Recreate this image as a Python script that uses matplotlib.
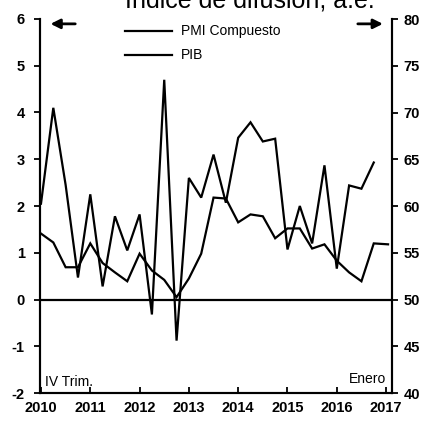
import numpy as np
import matplotlib
matplotlib.use("Agg")
import matplotlib.pyplot as plt

plt.rcParams['font.family'] = ['Liberation Sans', 'DejaVu Sans']

# ------------------------------------------------------------------
# Datos
# ------------------------------------------------------------------
# PIB: variacion trimestral, eje izquierdo, I-2010 a IV-2016
t_pib = np.arange(2010, 2017, 0.25)
pib = [2.05, 4.1, 2.45, 0.47, 2.25, 0.28, 1.78, 1.05, 1.82, -0.32, 4.7, -0.88,
       2.6, 2.18, 3.1, 2.07, 3.46, 3.79, 3.38, 3.44, 1.07, 2.0, 1.2, 2.87,
       0.66, 2.44, 2.37, 2.93]

# PMI compuesto: indice de difusion, eje derecho, hasta enero 2017
t_pmi = list(np.arange(2010, 2017, 0.25)) + [2017.04]
pmi = [57.05, 56.1, 53.45, 53.45, 56.0, 53.9, 52.9, 51.95, 54.9, 53.1, 52.1, 50.25,
       52.25, 54.9, 60.9, 60.8, 58.25, 59.1, 58.9, 56.55, 57.6, 57.6, 55.45, 55.9,
       54.15, 52.9, 51.95, 56.0, 55.9]

years = [2010, 2011, 2012, 2013, 2014, 2015, 2016, 2017]
left_ticks = [-2, -1, 0, 1, 2, 3, 4, 5, 6]
right_ticks = [40, 45, 50, 55, 60, 65, 70, 75, 80]

fig = plt.figure(figsize=(4.24, 4.23), dpi=100, facecolor='white')
ax = fig.add_axes([40/424, 1-393/423, 352/424, 374/423])
ax2 = ax.twinx()

# ------------------------------------------------------------------
# Series
# ------------------------------------------------------------------
ax.plot(t_pib, pib, color='black', lw=1.6, solid_joinstyle='miter')
ax2.plot(t_pmi, pmi, color='black', lw=1.6, solid_joinstyle='miter')
ax.axhline(0, color='black', lw=1.6)

ax.set_xlim(2009.98, 2017.12)
ax.set_ylim(-2, 6)
ax2.set_ylim(40, 80)

ax.set_xticks(years)
ax.set_xticklabels([str(y) for y in years], fontsize=10.5, fontweight='bold')
ax.set_yticks(left_ticks)
ax.set_yticklabels([str(v) for v in left_ticks], fontsize=10.5, fontweight='bold')
ax2.set_yticks(right_ticks)
ax2.set_yticklabels([str(v) for v in right_ticks], fontsize=10.5, fontweight='bold')

ax.tick_params(axis='x', direction='in', length=4, width=1.3, pad=6)
ax.tick_params(axis='y', direction='out', length=4, width=1.3, pad=7)
ax2.tick_params(axis='y', direction='out', length=4, width=1.3, pad=4.5)

for a in (ax, ax2):
    a.spines['top'].set_visible(False)
    for s in ('left', 'right', 'bottom'):
        a.spines[s].set_linewidth(1.5)

# ------------------------------------------------------------------
# Leyenda y flechas
# ------------------------------------------------------------------
ax.plot([0.241, 0.375], [0.968, 0.968], transform=ax.transAxes, color='black', lw=1.6, clip_on=False)
ax.text(0.40, 0.968, "PMI Compuesto", transform=ax.transAxes, fontsize=10, va='center')
ax.plot([0.241, 0.375], [0.904, 0.904], transform=ax.transAxes, color='black', lw=1.6, clip_on=False)
ax.text(0.40, 0.904, "PIB", transform=ax.transAxes, fontsize=10, va='center')

ax.annotate("", xy=(0.022, 0.987), xytext=(0.108, 0.987), xycoords='axes fraction',
            arrowprops=dict(arrowstyle='-|>', color='black', lw=2, mutation_scale=14))
ax.annotate("", xy=(0.982, 0.987), xytext=(0.895, 0.987), xycoords='axes fraction',
            arrowprops=dict(arrowstyle='-|>', color='black', lw=2, mutation_scale=14))

ax.text(0.014, 0.012, "IV Trim.", transform=ax.transAxes, fontsize=10, va='bottom', ha='left')
ax.text(0.983, 0.018, "Enero", transform=ax.transAxes, fontsize=10, va='bottom', ha='right')

# titulo cortado arriba, como en el original escaneado
fig.text(0.59, 1.0, "Índice de difusión, a.e.", fontsize=18, ha='center', va='center')

fig.savefig("out.png", dpi=100, facecolor='white')
